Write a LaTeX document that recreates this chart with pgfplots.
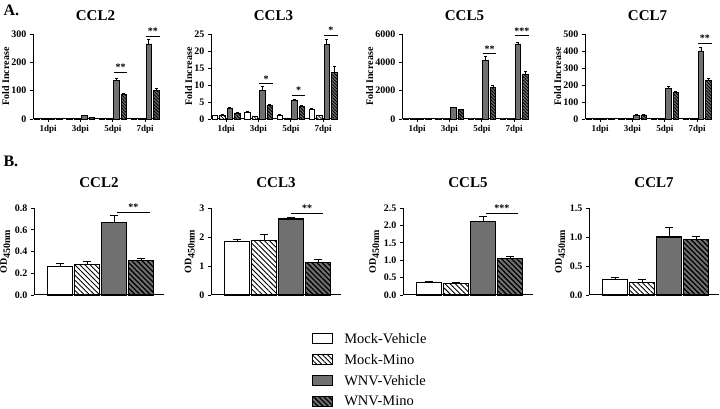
\documentclass[border=0pt]{standalone}
\usepackage{fontspec}
\setmainfont{Liberation Serif}
\usepackage{pgfplots}
\pgfplotsset{compat=1.18}
\usetikzlibrary{patterns.meta}
\definecolor{barg}{HTML}{707070}
\tikzset{
  mvA/.style={fill=white,draw=black,line width=0.7pt},
  mmA/.style={fill=white,draw=black,line width=0.7pt,postaction={pattern={Lines[angle=-45,distance=2.3pt,line width=0.7pt]}}},
  wvA/.style={fill=barg,draw=black,line width=0.7pt},
  wmA/.style={fill=barg,draw=black,line width=0.7pt,postaction={pattern={Lines[angle=-45,distance=2.3pt,line width=0.9pt]}}},
  mvB/.style={fill=white,draw=black,line width=1.1pt},
  mmB/.style={fill=white,draw=black,line width=1.1pt,postaction={pattern={Lines[angle=-45,distance=3.6pt,line width=0.9pt]}}},
  wvB/.style={fill=barg,draw=black,line width=1.1pt},
  wmB/.style={fill=barg,draw=black,line width=1.1pt,postaction={pattern={Lines[angle=-45,distance=3.6pt,line width=1.3pt]}}},
  sig/.style={font=\fontsize{10}{10}\selectfont\bfseries,anchor=south,inner sep=0.5pt},
}
\pgfplotsset{
  common/.style={
    scale only axis, anchor=south west, clip=false,
    axis x line*=bottom, axis y line*=left,
    axis line style={line width=1pt,-},
    ybar, ymin=0,
    tick align=outside, major tick length=3pt,
    tick style={line width=0.8pt,black},
    yticklabel style={font=\fontsize{10}{11}\selectfont\bfseries},
    /pgf/number format/assume math mode=true,
    scaled y ticks=false,
    /pgf/number format/1000 sep={},
    error bars/y dir=plus, error bars/y explicit,
  },
  Astyle/.style={common,
    width=125pt, height=85pt,
    bar width=0.17,
    xmin=0.53, xmax=4.4,
    xtick={1,2,3,4}, xticklabels={1dpi,3dpi,5dpi,7dpi},
    xticklabel style={font=\fontsize{9}{10}\selectfont\bfseries},
    ylabel={Fold Increase},
    ylabel style={font=\fontsize{10}{12}\selectfont\bfseries, yshift=-4.5pt},
    title style={font=\fontsize{15}{17}\selectfont\bfseries, at={(0.5,1)}, anchor=base, yshift=7pt},
    error bars/error bar style={line width=0.6pt,black,solid},
    error bars/error mark options={rotate=90,mark size=1.5pt,line width=0.6pt,black},
  },
  Bstyle/.style={common,
    width=130pt, height=87pt,
    bar width=0.95, bar shift=0,
    xmin=0.037, xmax=4.85,
    xtick=\empty,
    ylabel={\textbf{OD}$_{\textbf{450nm}}$},
    ylabel style={font=\fontsize{10}{12}\selectfont\bfseries, yshift=-2pt},
    title style={font=\fontsize{15}{17}\selectfont\bfseries, at={(0.5,1)}, anchor=base, yshift=14pt},
    error bars/error bar style={line width=1pt,black,solid},
    error bars/error mark options={rotate=90,mark size=4pt,line width=1pt,black},
  },
}
\begin{document}
\begin{tikzpicture}
\path[use as bounding box] (0,0) rectangle (720pt,409pt);
\node[anchor=west,font=\fontsize{16}{18}\selectfont\bfseries] at (0pt,399pt) {A.};
\node[anchor=west,font=\fontsize{16}{18}\selectfont\bfseries] at (0pt,248pt) {B.};

% ---------- Panel A ----------
\begin{axis}[Astyle, at={(33pt,290pt)}, title={CCL2}, ymax=300, ytick={0,100,200,300}]
\addplot[mvA, bar shift=-0.345] coordinates {(1,1) (2,1) (3,1) (4,1)};
\addplot[mmA, bar shift=-0.115] coordinates {(1,1) (2,0.8) (3,0.7) (4,1)};
\addplot[wvA, bar shift=0.115] coordinates {(1,1.5) +- (0,0) (2,12) +- (0,1.5) (3,135) +- (0,10) (4,265) +- (0,15)};
\addplot[wmA, bar shift=0.345] coordinates {(1,1.2) +- (0,0) (2,6) +- (0,1) (3,87) +- (0,5) (4,100) +- (0,10)};
\draw[line width=0.6pt] (axis cs:3.03,166) -- (axis cs:3.45,166);
\node[sig] at (axis cs:3.24,168) {**};
\draw[line width=0.6pt] (axis cs:4.03,293) -- (axis cs:4.45,293);
\node[sig] at (axis cs:4.24,295) {**};
\end{axis}

\begin{axis}[Astyle, at={(211pt,290pt)}, title={CCL3}, ymax=25, ytick={0,5,10,15,20,25}]
\addplot[mvA, bar shift=-0.345] coordinates {(1,1.0) +- (0,0.1) (2,2.0) +- (0,0.2) (3,1.2) +- (0,0.1) (4,2.8) +- (0,0.3)};
\addplot[mmA, bar shift=-0.115] coordinates {(1,1.1) +- (0,0.15) (2,0.7) +- (0,0.1) (3,0.3) +- (0,0.05) (4,1.0) +- (0,0.1)};
\addplot[wvA, bar shift=0.115] coordinates {(1,3.0) +- (0,0.5) (2,8.5) +- (0,1.0) (3,5.5) +- (0,0.2) (4,22) +- (0,1.5)};
\addplot[wmA, bar shift=0.345] coordinates {(1,1.8) +- (0,0.2) (2,4.0) +- (0,0.3) (3,3.8) +- (0,0.2) (4,13.8) +- (0,1.7)};
\draw[line width=0.6pt] (axis cs:2.03,10.4) -- (axis cs:2.45,10.4);
\node[sig] at (axis cs:2.24,10.6) {*};
\draw[line width=0.6pt] (axis cs:3.03,7.0) -- (axis cs:3.45,7.0);
\node[sig] at (axis cs:3.24,7.2) {*};
\draw[line width=0.6pt] (axis cs:4.03,24.6) -- (axis cs:4.45,24.6);
\node[sig] at (axis cs:4.24,24.8) {*};
\end{axis}

\begin{axis}[Astyle, at={(402pt,290pt)}, title={CCL5}, ymax=6000, ytick={0,2000,4000,6000}]
\addplot[mvA, bar shift=-0.345] coordinates {(1,1) (2,1) (3,1) (4,1)};
\addplot[mmA, bar shift=-0.115] coordinates {(1,1) (2,1) (3,1) (4,1)};
\addplot[wvA, bar shift=0.115] coordinates {(1,2) +- (0,0) (2,820) +- (0,40) (3,4150) +- (0,250) (4,5300) +- (0,100)};
\addplot[wmA, bar shift=0.345] coordinates {(1,1.5) +- (0,0) (2,650) +- (0,50) (3,2250) +- (0,100) (4,3150) +- (0,200)};
\draw[line width=0.6pt] (axis cs:3.03,4620) -- (axis cs:3.45,4620);
\node[sig] at (axis cs:3.24,4660) {**};
\draw[line width=0.6pt] (axis cs:4.03,5900) -- (axis cs:4.45,5900);
\node[sig] at (axis cs:4.24,5940) {***};
\end{axis}

\begin{axis}[Astyle, at={(585pt,290pt)}, title={CCL7}, ymax=500, ytick={0,100,200,300,400,500}]
\addplot[mvA, bar shift=-0.345] coordinates {(1,1) (2,1) (3,1) (4,2)};
\addplot[mmA, bar shift=-0.115] coordinates {(1,1) (2,1) (3,1) (4,1.5)};
\addplot[wvA, bar shift=0.115] coordinates {(1,1.5) +- (0,0) (2,22) +- (0,3) (3,178) +- (0,15) (4,400) +- (0,20)};
\addplot[wmA, bar shift=0.345] coordinates {(1,1.2) +- (0,0) (2,24) +- (0,3) (3,155) +- (0,5) (4,225) +- (0,15)};
\draw[line width=0.6pt] (axis cs:4.03,447) -- (axis cs:4.45,447);
\node[sig] at (axis cs:4.24,450) {**};
\end{axis}

% ---------- Panel B ----------
\begin{axis}[Bstyle, at={(34pt,114pt)}, title={CCL2}, ymax=0.8, ytick={0,0.2,0.4,0.6,0.8},
  yticklabel style={/pgf/number format/.cd,fixed,fixed zerofill,precision=1}]
\addplot[mvB] coordinates {(1,0.26) +- (0,0.03)};
\addplot[mmB] coordinates {(2,0.28) +- (0,0.03)};
\addplot[wvB] coordinates {(3,0.67) +- (0,0.06)};
\addplot[wmB] coordinates {(4,0.32) +- (0,0.015)};
\draw[line width=0.6pt] (axis cs:3.1,0.763) -- (axis cs:4.33,0.763);
\node[sig] at (axis cs:3.72,0.77) {**};
\end{axis}

\begin{axis}[Bstyle, at={(211pt,114pt)}, title={CCL3}, ymax=3, ytick={0,1,2,3}]
\addplot[mvB] coordinates {(1,1.85) +- (0,0.05)};
\addplot[mmB] coordinates {(2,1.87) +- (0,0.2)};
\addplot[wvB] coordinates {(3,2.62) +- (0,0.05)};
\addplot[wmB] coordinates {(4,1.13) +- (0,0.1)};
\draw[line width=0.6pt] (axis cs:3.0,2.83) -- (axis cs:4.18,2.83);
\node[sig] at (axis cs:3.6,2.86) {**};
\end{axis}

\begin{axis}[Bstyle, at={(403pt,114pt)}, title={CCL5}, ymax=2.5, ytick={0,0.5,1,1.5,2,2.5},
  yticklabel style={/pgf/number format/.cd,fixed,fixed zerofill,precision=1}]
\addplot[mvB] coordinates {(1,0.37) +- (0,0.03)};
\addplot[mmB] coordinates {(2,0.32) +- (0,0.04)};
\addplot[wvB] coordinates {(3,2.12) +- (0,0.13)};
\addplot[wmB] coordinates {(4,1.06) +- (0,0.05)};
\draw[line width=0.6pt] (axis cs:3.11,2.36) -- (axis cs:4.3,2.36);
\node[sig] at (axis cs:3.7,2.38) {***};
\end{axis}

\begin{axis}[Bstyle, at={(589pt,114pt)}, title={CCL7}, ymax=1.5, ytick={0,0.5,1,1.5},
  yticklabel style={/pgf/number format/.cd,fixed,fixed zerofill,precision=1}]
\addplot[mvB] coordinates {(1,0.27) +- (0,0.03)};
\addplot[mmB] coordinates {(2,0.21) +- (0,0.06)};
\addplot[wvB] coordinates {(3,1.0) +- (0,0.16)};
\addplot[wmB] coordinates {(4,0.95) +- (0,0.06)};
\end{axis}

% ---------- Legend ----------
\begin{axis}[hide axis, scale only axis, width=10pt, height=10pt, at={(312pt,77pt)}, anchor=north west,
  xmin=0, xmax=1, ymin=0, ymax=1,
  legend style={at={(0,1)}, anchor=north west, draw=none, fill=none, inner sep=0pt,
    row sep=9pt, font=\fontsize{14.5}{15}\selectfont,
    nodes={inner sep=1pt, text depth=0pt},
    /tikz/every odd column/.append style={column sep=10pt}},
  legend cell align=left,
  legend image code/.code={\draw[#1] (0pt,-5pt) rectangle (20pt,5pt);}]
\addlegendimage{mvB}\addlegendentry{Mock-Vehicle}
\addlegendimage{mmB}\addlegendentry{Mock-Mino}
\addlegendimage{wvB}\addlegendentry{WNV-Vehicle}
\addlegendimage{wmB}\addlegendentry{WNV-Mino}
\end{axis}
\end{tikzpicture}
\end{document}
